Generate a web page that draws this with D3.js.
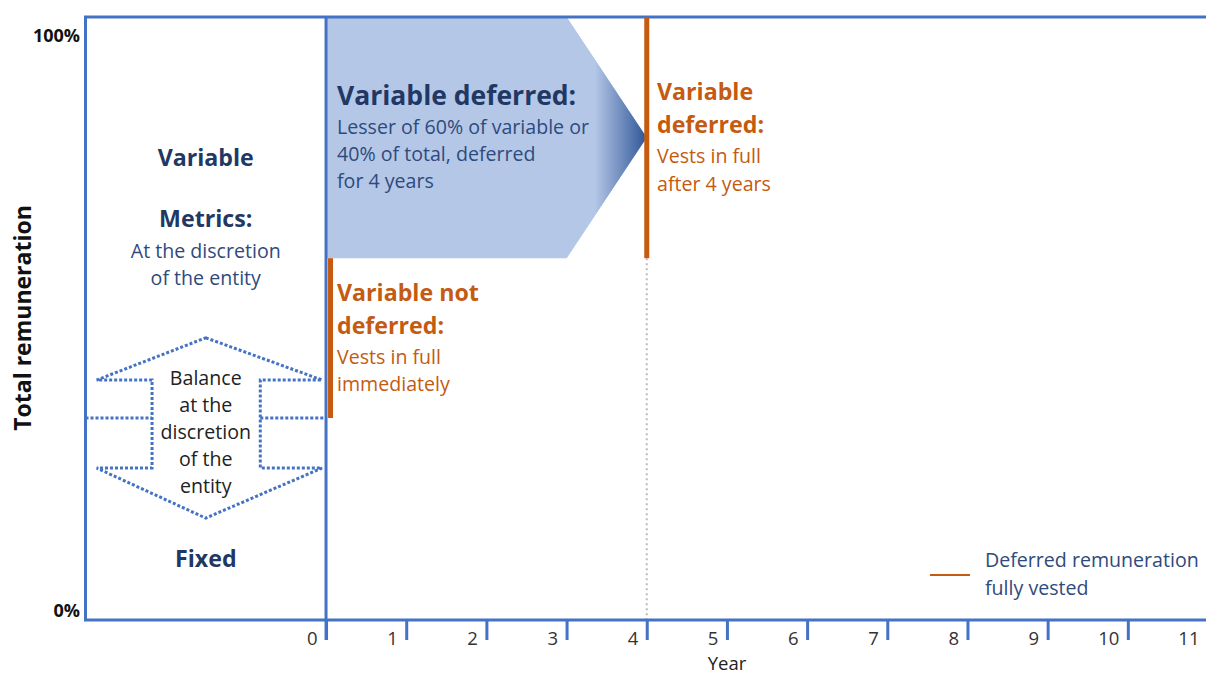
<!DOCTYPE html>
<html><head><meta charset="utf-8">
<script src="https://cdn.jsdelivr.net/npm/d3@7"></script>
<style>body{margin:0;background:#fff;} svg{display:block;font-family:"Open Sans",Lato,sans-serif;}</style>
</head><body>
<svg id="c" width="1206" height="675"></svg>
<script>
// ---- data ----
const yearTicks = [0,1,2,3,4,5,6,7,8,9,10,11];
const yTickLabels = [{v:100,t:"100%"},{v:0,t:"0%"}];
const fixedShare = 33.5;          // boundary fixed / variable (%)
const deferredFrom = 60;          // deferred variable starts at (%)
const deferralYears = 4;
// deferred arrow outline (year, %)
const deferredArrow = [[0,100],[3,100],[4,80],[3,60],[0,60]];
// double arrow "Balance at the discretion" (year, %)
const balanceArrow = [[-1.5,46.8],[-0.05,39.8],[-0.82,39.8],[-0.82,25.2],[-0.05,25.2],[-1.5,16.9],[-2.86,25.2],[-2.17,25.2],[-2.17,39.8],[-2.86,39.8]];
const vestBars = [{year:0,from:fixedShare,to:deferredFrom},{year:deferralYears,from:deferredFrom,to:100}];

const svg = d3.select("#c");
const x = d3.scaleLinear().domain([-3,11]).range([85.5,1208]);
const y = d3.scaleLinear().domain([0,100]).range([620,17]);
const blue="#4472c4", orange="#c55a11", navy="#1f3864", navyTxt="#2f4a7c";
const REG=19.6, BOLD=23.2;

const defs = svg.append("defs");
const g = defs.append("linearGradient").attr("id","tipGrad").attr("gradientUnits","userSpaceOnUse")
  .attr("x1",x(3.35)).attr("x2",x(4)).attr("y1",0).attr("y2",0);
g.append("stop").attr("offset",0).attr("stop-color","#b4c7e7");
g.append("stop").attr("offset",1).attr("stop-color","#2f5597");

const line = d3.line().x(d=>x(d[0])).y(d=>y(d[1]));

// deferred arrow fill
svg.append("path").attr("d",line(deferredArrow)+"Z").attr("fill","#b4c7e7");
svg.append("path").attr("d",line(deferredArrow.slice(1,4))+"Z").attr("fill","url(#tipGrad)");

// grey dotted line at year 4
svg.append("line").attr("x1",x(deferralYears)).attr("x2",x(deferralYears)).attr("y1",y(deferredFrom)).attr("y2",y(0))
  .attr("stroke","#bbb").attr("stroke-width",2).attr("stroke-dasharray","2,3");

// frame
svg.append("path").attr("d",`M${x(11)},${y(100)}H${x(-3)}V${y(0)}H${x(11)}`).attr("fill","none").attr("stroke",blue).attr("stroke-width",3);
// x-axis ticks
const xa = d3.axisBottom(x).tickValues(yearTicks).tickSize(20).tickFormat(d3.format("d"));
const ag = svg.append("g").attr("transform",`translate(0,${y(0)})`).call(xa);
ag.select(".domain").remove();
ag.selectAll(".tick line").attr("stroke",blue).attr("stroke-width",3);
ag.selectAll(".tick text").attr("x",-9).attr("y",12).attr("text-anchor","end").attr("font-size",18.5).attr("fill","#333").attr("font-family","'Open Sans',sans-serif");
// year 0 full vertical
svg.append("line").attr("x1",x(0)).attr("x2",x(0)).attr("y1",y(100)).attr("y2",y(0)+20).attr("stroke",blue).attr("stroke-width",3);

// y labels
svg.selectAll(".yl").data(yTickLabels).join("text").attr("x",80).attr("y",d=>y(d.v)+(d.v===100?25:-3))
  .attr("text-anchor","end").attr("font-size",18).attr("font-weight","bold").attr("fill","#111").text(d=>d.t);

// vest bars
svg.selectAll(".vb").data(vestBars).join("rect")
  .attr("x",d=>x(d.year)+(d.year===0?2:-2.5)).attr("width",5)
  .attr("y",d=>y(d.to)).attr("height",d=>y(d.from)-y(d.to)).attr("fill",orange);

// balance double arrow (dotted)
const dot = sel=>sel.attr("fill","none").attr("stroke",blue).attr("stroke-width",3).attr("stroke-dasharray","3,2");
svg.append("path").attr("d",line(balanceArrow)+"Z").call(dot);
svg.append("path").attr("d",line([[-3,fixedShare],[-2.17,fixedShare]])).call(dot);
svg.append("path").attr("d",line([[-0.82,fixedShare],[0,fixedShare]])).call(dot);

function txt(xp,yp,s,opt){
  return svg.append("text").attr("x",xp).attr("y",yp).attr("text-anchor",opt.anchor||"start")
   .attr("dominant-baseline","middle").attr("font-size",opt.size||REG).attr("font-weight",opt.bold?"bold":"normal")
   .attr("fill",opt.color||navyTxt).text(s);
}
const cx = x(-1.5);
txt(cx,160,"Variable",{anchor:"middle",bold:true,size:BOLD,color:navy});
txt(cx,221,"Metrics:",{anchor:"middle",bold:true,size:BOLD,color:navy});
txt(cx,253,"At the discretion",{anchor:"middle"});
txt(cx,280,"of the entity",{anchor:"middle"});
["Balance","at the","discretion","of the","entity"].forEach((s,i)=>txt(cx,380+i*27,s,{anchor:"middle",color:"#222"}));
txt(cx,561,"Fixed",{anchor:"middle",bold:true,size:BOLD,color:navy});

txt(337,98,"Variable deferred:",{bold:true,size:26.5,color:navy});
["Lesser of 60% of variable or","40% of total, deferred","for 4 years"].forEach((s,i)=>txt(337,129+i*27,s,{}));

txt(337,295,"Variable not",{bold:true,size:BOLD,color:orange});
txt(337,328,"deferred:",{bold:true,size:BOLD,color:orange});
txt(337,359,"Vests in full",{color:orange});
txt(337,386,"immediately",{color:orange});

txt(657,94,"Variable",{bold:true,size:BOLD,color:orange});
txt(657,127,"deferred:",{bold:true,size:BOLD,color:orange});
txt(657,158,"Vests in full",{color:orange});
txt(657,186,"after 4 years",{color:orange});

// legend
svg.append("line").attr("x1",930).attr("x2",970).attr("y1",575).attr("y2",575).attr("stroke",orange).attr("stroke-width",2);
txt(985,562,"Deferred remuneration",{});
txt(985,590,"fully vested",{});

// axis titles
txt(727,665,"Year",{anchor:"middle",size:18.5,color:"#222"});
svg.append("text").attr("transform",`translate(25,${318}) rotate(-90)`).attr("text-anchor","middle").attr("dominant-baseline","middle")
  .attr("font-size",23).attr("font-weight","bold").attr("fill","#111").text("Total remuneration");
</script>
</body></html>
